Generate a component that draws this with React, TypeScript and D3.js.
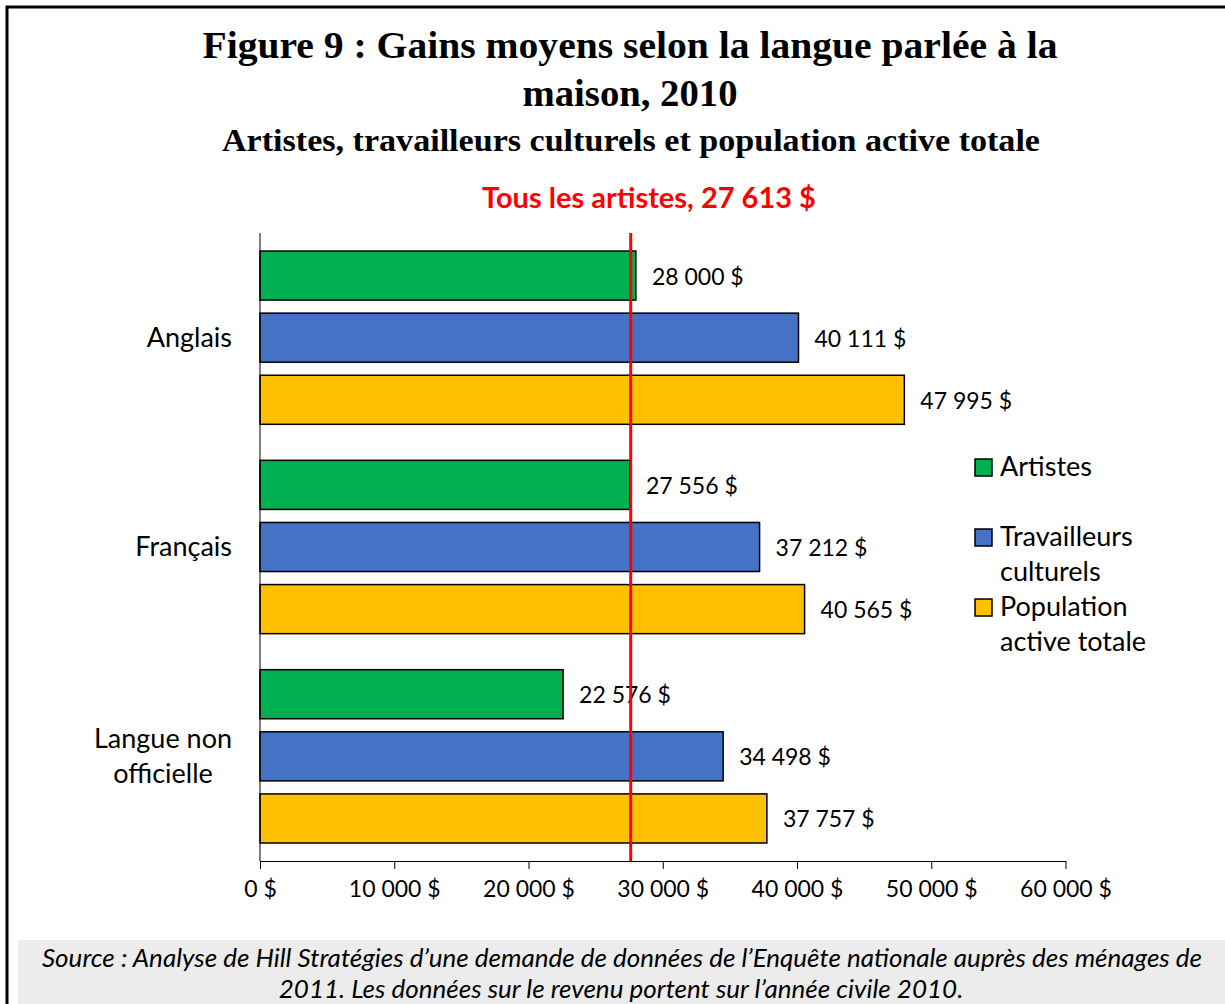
import { useEffect, useRef } from "react";
import * as d3 from "d3";

const width = 1225;
const height = 1004;

const categories = ["Anglais", "Français", "Langue non officielle"];
const categoryLines = [["Anglais"], ["Français"], ["Langue non", "officielle"]];
const seriesNames = ["Artistes", "Travailleurs culturels", "Population active totale"];
const legendLines = [["Artistes"], ["Travailleurs", "culturels"], ["Population", "active totale"]];
const artistes = [28000, 27556, 22576];
const travailleurs = [40111, 37212, 34498];
const population = [47995, 40565, 37757];
const tousLesArtistes = 27613;
const xTicks = [0, 10000, 20000, 30000, 40000, 50000, 60000];
const colors = ["#00B050", "#4472C4", "#FFC000"];

const seriesValues = [artistes, travailleurs, population];

const marginLeft = 260;
const plotRight = 1065.5;
const plotTop = 233;
const plotBottom = 861;

const sans = "Lato, 'Open Sans', sans-serif";
const serif = "'Liberation Serif', 'DejaVu Serif', serif";

const fmt = (v: number) => `${d3.format(",")(v).replace(/,/g, " ")} $`;

const App = () => {
  const axisRef = useRef<SVGGElement>(null);

  const xScale = d3.scaleLinear().domain([0, 60000]).range([marginLeft, plotRight]);
  const yScale = d3.scaleBand().domain(categories).range([plotTop, plotBottom]).padding(0);
  const inner = d3
    .scaleBand()
    .domain(seriesNames)
    .range([0, yScale.bandwidth()])
    .paddingInner(0.21)
    .paddingOuter(0.29);

  useEffect(() => {
    const axis = d3.axisBottom(xScale).tickValues(xTicks).tickSize(8).tickSizeOuter(0).tickFormat((d) => fmt(d as number));
    const g = d3.select(axisRef.current);
    g.call(axis as any);
    g.select(".domain").attr("stroke", "#000").attr("stroke-width", 1);
    g.selectAll(".tick line").attr("stroke", "#000");
    g.selectAll(".tick text")
      .attr("font-size", 23)
      .attr("font-family", sans)
      .attr("fill", "#000")
      .attr("dy", "0")
      .attr("y", 36);
  }, []);

  return (
    <svg
      width={width}
      height={height}
      style={{ position: "absolute", left: 0, top: 0, background: "#fff" }}
    >
      <rect x={7} y={7} width={width + 10} height={height + 10} fill="#fff" stroke="#000" strokeWidth={3} />
      <rect x={18} y={940} width={width - 18} height={64} fill="#ececec" />

      {/* titres */}
      <text x={630} y={58} textAnchor="middle" fontFamily={serif} fontWeight="bold" fontSize={38}
        textLength={855} lengthAdjust="spacingAndGlyphs">
        Figure 9 : Gains moyens selon la langue parlée à la
      </text>
      <text x={630} y={106} textAnchor="middle" fontFamily={serif} fontWeight="bold" fontSize={38}
        textLength={215} lengthAdjust="spacingAndGlyphs">
        maison, 2010
      </text>
      <text x={631} y={151} textAnchor="middle" fontFamily={serif} fontWeight="bold" fontSize={31}
        textLength={818} lengthAdjust="spacingAndGlyphs">
        Artistes, travailleurs culturels et population active totale
      </text>
      <text x={649} y={208} textAnchor="middle" fontFamily={sans} fontWeight="bold" fontSize={29} fill="#ff0000">
        Tous les artistes, 27 613 $
      </text>

      {/* barres */}
      {categories.map((c, i) => (
        <g key={c} transform={`translate(0,${yScale(c)})`}>
          {seriesNames.map((s, j) => (
            <g key={s}>
              <rect
                x={xScale(0)}
                y={inner(s)}
                width={xScale(seriesValues[j][i]) - xScale(0)}
                height={inner.bandwidth()}
                fill={colors[j]}
                stroke="#000"
                strokeWidth={1.5}
              />
              <text
                x={xScale(seriesValues[j][i]) + 16}
                y={(inner(s) as number) + inner.bandwidth() / 2}
                dominantBaseline="central"
                fontFamily={sans}
                fontSize={23}
              >
                {fmt(seriesValues[j][i])}
              </text>
            </g>
          ))}
        </g>
      ))}

      {/* étiquettes de catégories */}
      {categories.map((c, i) => {
        const lines = categoryLines[i];
        const mid = (yScale(c) as number) + yScale.bandwidth() / 2;
        const multi = lines.length > 1;
        return (
          <text
            key={c}
            textAnchor={multi ? "middle" : "end"}
            fontFamily={sans}
            fontSize={27}
          >
            {lines.map((l, k) => (
              <tspan key={l} x={multi ? 163 : 232} y={mid + 9 + (k - (lines.length - 1) / 2) * 35}>
                {l}
              </tspan>
            ))}
          </text>
        );
      })}

      <g ref={axisRef} transform={`translate(0,${plotBottom})`} />
      <line x1={marginLeft} x2={marginLeft} y1={plotTop} y2={plotBottom} stroke="#000" strokeWidth={1} />

      {/* ligne de référence */}
      <line
        x1={xScale(tousLesArtistes)}
        x2={xScale(tousLesArtistes)}
        y1={plotTop}
        y2={plotBottom}
        stroke="#ff0000"
        strokeWidth={3}
      />

      {/* légende */}
      {seriesNames.map((s, j) => {
        const top = 459 + j * 70;
        return (
          <g key={s}>
            <rect x={975} y={top} width={17} height={17} fill={colors[j]} stroke="#000" strokeWidth={1.5} />
            <text fontFamily={sans} fontSize={27}>
              {legendLines[j].map((l, k) => (
                <tspan key={l} x={1000} y={top + 17 + k * 35}>
                  {l}
                </tspan>
              ))}
            </text>
          </g>
        );
      })}

      {/* source */}
      <text x={622} y={967} textAnchor="middle" fontFamily={sans} fontStyle="italic" fontSize={26}>
        Source : Analyse de Hill Stratégies d’une demande de données de l’Enquête nationale auprès des ménages de
      </text>
      <text x={621} y={998} textAnchor="middle" fontFamily={sans} fontStyle="italic" fontSize={26}>
        2011. Les données sur le revenu portent sur l’année civile 2010.
      </text>
    </svg>
  );
};

export default App;
